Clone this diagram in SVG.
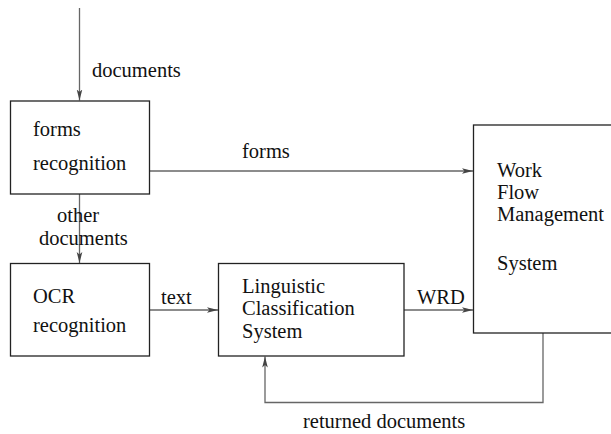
<svg xmlns="http://www.w3.org/2000/svg" width="611" height="434" viewBox="0 0 611 434">
<style>
text{font-family:"Liberation Serif","Times New Roman",serif;font-size:20.5px;fill:#111}
.box{fill:#fff;stroke:#222;stroke-width:1.3}
.c{fill:none;stroke:#666;stroke-width:1.3}
</style>
<defs>
<marker id="ah" markerUnits="userSpaceOnUse" markerWidth="12" markerHeight="8" viewBox="0 0 12 8" refX="11" refY="4" orient="auto">
<path d="M0,1.2 L11,4 L0,6.8 L2.5,4 Z" fill="#444"/>
</marker>
</defs>
<rect width="611" height="434" fill="#fff"/>
<g id="connectors">
<line class="c" x1="79.5" y1="8" x2="79.5" y2="100.5" marker-end="url(#ah)"/>
<line class="c" x1="149.5" y1="171" x2="473" y2="171" marker-end="url(#ah)"/>
<line class="c" x1="79.5" y1="194" x2="79.5" y2="263" marker-end="url(#ah)"/>
<line class="c" x1="149.5" y1="310" x2="218" y2="310" marker-end="url(#ah)"/>
<line class="c" x1="404" y1="310" x2="473" y2="310" marker-end="url(#ah)"/>
<polyline class="c" points="543,333 543,402.5 265,402.5 265,356.5" marker-end="url(#ah)"/>
<text x="92" y="77">documents</text>
<text x="242" y="158">forms</text>
<text x="57" y="222">other</text>
<text x="39" y="245">documents</text>
<text x="161" y="304">text</text>
<text x="417" y="304">WRD</text>
<text x="303" y="428">returned documents</text>
</g>
<g id="forms-recognition">
<rect class="box" x="10.5" y="101" width="139" height="93"/>
<text x="33" y="136">forms</text>
<text x="33" y="170">recognition</text>
</g>
<g id="ocr-recognition">
<rect class="box" x="10.5" y="263.5" width="139" height="92.5"/>
<text x="33" y="303">OCR</text>
<text x="33" y="332">recognition</text>
</g>
<g id="linguistic-classification">
<rect class="box" x="218.5" y="263.5" width="185.5" height="92.5"/>
<text x="242" y="293">Linguistic</text>
<text x="242" y="315">Classification</text>
<text x="242" y="338">System</text>
</g>
<g id="workflow-management">
<rect class="box" x="473.5" y="125" width="145" height="208"/>
<text x="497" y="177">Work</text>
<text x="497" y="199">Flow</text>
<text x="497" y="221">Management</text>
<text x="497" y="270">System</text>
</g>
</svg>
